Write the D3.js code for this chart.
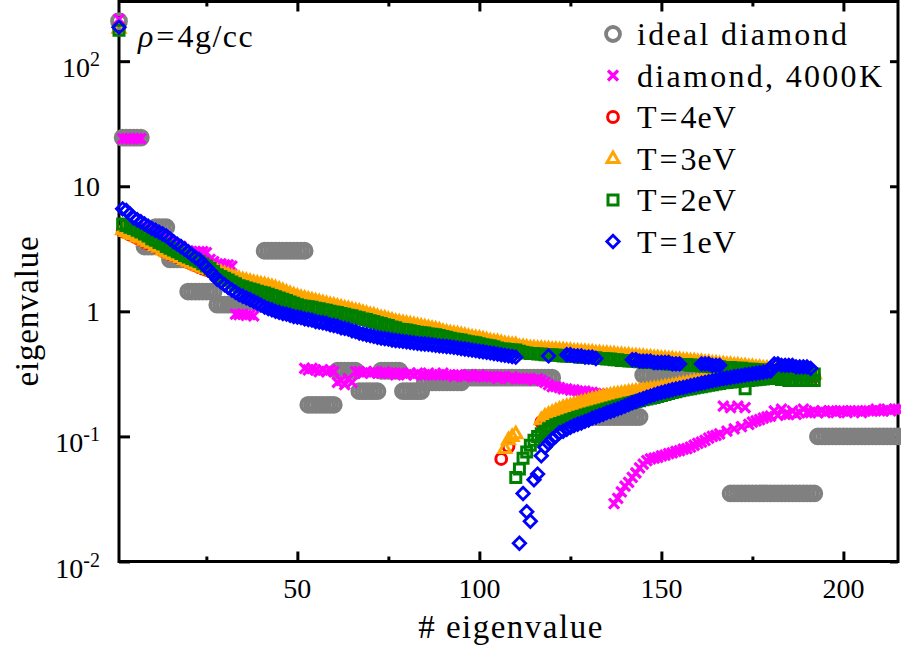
<!DOCTYPE html>
<html>
<head>
<meta charset="utf-8">
<title>eigenvalue spectrum</title>
<script src="https://cdn.jsdelivr.net/npm/d3@7/dist/d3.min.js"></script>
<style>
  body { margin: 0; background: #fff; }
</style>
</head>
<body>
<div id="chart"></div>
<script>
// eigenvalue number n starts at 1 in every list; null = no point drawn

// ideal diamond, n = 1..215
const idealDiamond = [209,
  24.5, 24.5, 24.5, 24.5, 24.5, 24.5,
  3.3, 3.3, 3.3,
  4.7, 4.7, 4.7, 4.7,
  2.6, 2.6, 2.6, 2.6, 2.6,
  1.44, 1.44, 1.44, 1.44, 1.44, 1.44, 1.44, 1.44,
  1.13, 1.13, 1.13, 1.13, 1.13, 1.13, 1.13,
  1.2, 1.2, 1.2, 1.2, 1.2, 1.2,
  3.05, 3.05, 3.05, 3.05, 3.05, 3.05, 3.05, 3.05, 3.05, 3.05, 3.05, 3.05,
  0.179, 0.179, 0.179, 0.179, 0.179, 0.179, 0.179, 0.179,
  0.335, 0.335, 0.335, 0.335, 0.335, 0.335,
  0.23, 0.23, 0.23, 0.23, 0.23, 0.23,
  0.335, 0.335, 0.335, 0.335, 0.335, 0.335,
  0.23, 0.23, 0.23, 0.23, 0.23, 0.23,
  0.27, 0.27, 0.27, 0.27, 0.27, 0.27, 0.27, 0.27, 0.27, 0.27, 0.27,
  0.295, 0.295, 0.295, 0.295, 0.295, 0.295, 0.295, 0.295, 0.295, 0.295,
  0.295, 0.295, 0.295, 0.295, 0.295, 0.295, 0.295, 0.295, 0.295, 0.295,
  0.295, 0.295, 0.295, 0.295, 0.295,
  0.143, 0.143, 0.143, 0.143, 0.143, 0.143, 0.143, 0.143, 0.143, 0.143, 0.143, 0.143,
  0.143, 0.143, 0.143, 0.143, 0.143, 0.143, 0.143, 0.143, 0.143, 0.143, 0.143, 0.143,
  0.31, 0.31, 0.31, 0.31, 0.31, 0.31, 0.31, 0.31, 0.31, 0.31, 0.31, 0.31,
  0.31, 0.31, 0.31, 0.31, 0.31, 0.31, 0.31, 0.31, 0.31, 0.31, 0.31, 0.31,
  0.035, 0.035, 0.035, 0.035, 0.035, 0.035, 0.035, 0.035, 0.035, 0.035, 0.035, 0.035,
  0.035, 0.035, 0.035, 0.035, 0.035, 0.035, 0.035, 0.035, 0.035, 0.035, 0.035, 0.035,
  0.1, 0.1, 0.1, 0.1, 0.1, 0.1, 0.1, 0.1, 0.1, 0.1, 0.1, 0.1,
  0.1, 0.1, 0.1, 0.1, 0.1, 0.1, 0.1, 0.1, 0.1, 0.1, 0.1];

// diamond 4000K, n = 1..215
const diamond4000K = [
  217, 24, 24, 24, 24, 24, 24, 4.8, 4.6, 4.4,
  4.2, 4.0, 3.9, 3.7, 3.6, 3.5, 3.4, 3.3, 3.1, 3.05,
  3.0, 3.0, 3.0, 3.0, 2.95, 2.6, 2.5, 2.4, 2.4, 2.35,
  2.35, 2.3, 0.95, 0.94, 0.95, 0.93, 0.94, 0.92, 1.3, 1.25,
  1.2, 1.2, 1.15, 1.1, 1.1, 1.05, 1.05, 1.0, 1.0, 1.0,
  0.98, 0.35, 0.34, 0.35, 0.34, 0.33, 0.34, 0.33, 0.34, 0.33,
  0.27, 0.28, 0.26, 0.29, 0.27, 0.33, 0.33, 0.32, 0.33, 0.32,
  0.33, 0.32, 0.32, 0.33, 0.32, 0.32, 0.31, 0.32, 0.32, 0.31,
  0.32, 0.31, 0.32, 0.31, 0.31, 0.32, 0.31, 0.31, 0.31, 0.32,
  0.31, 0.31, 0.30, 0.31, 0.31, 0.30, 0.31, 0.30, 0.30, 0.31,
  0.30, 0.30, 0.30, 0.30, 0.29, 0.30, 0.30, 0.29, 0.30, 0.29,
  0.29, 0.29, 0.29, 0.29, 0.28, 0.29, 0.28, 0.27, 0.26, 0.25,
  0.25, 0.245, 0.24, 0.24, 0.235, 0.235, 0.23, 0.23, 0.23, 0.225,
  0.225, 0.22, 0.22, 0.22, 0.215, 0.21, 0.029, 0.032, 0.036, 0.04,
  0.043, 0.047, 0.051, 0.056, 0.06, 0.064, 0.066, 0.067, 0.068, 0.07,
  0.071, 0.073, 0.074, 0.076, 0.077, 0.079, 0.08, 0.082, 0.085, 0.088,
  0.09, 0.093, 0.097, 0.1, 0.102, 0.105, 0.175, 0.11, 0.17, 0.115,
  0.175, 0.12, 0.17, 0.125, 0.13, 0.133, 0.136, 0.14, 0.143, 0.145,
  0.16, 0.147, 0.165, 0.15, 0.15, 0.16, 0.15, 0.155, 0.165, 0.155,
  0.155, 0.16, 0.155, 0.16, 0.155, 0.16, 0.16, 0.155, 0.16, 0.16,
  0.155, 0.16, 0.16, 0.16, 0.155, 0.16, 0.16, 0.16, 0.165, 0.16,
  0.16, 0.165, 0.16, 0.165, 0.165];

// T=4eV: n = 1..110, upper branch n = 111..192, lower branch n = 106..190
const t4Main = [
  185, 4.4, 4.25, 4.1, 4.0, 3.85, 3.75, 3.6, 3.5, 3.4,
  3.3, 3.2, 3.05, 2.95, 2.87, 2.8, 2.72, 2.65, 2.56, 2.48,
  2.4, 2.33, 2.26, 2.2, 2.15, 2.1, 2.06, 2.02, 1.98, 1.94,
  1.9, 1.85, 1.81, 1.77, 1.74, 1.71, 1.68, 1.66, 1.63, 1.61,
  1.58, 1.55, 1.52, 1.49, 1.46, 1.42, 1.38, 1.35, 1.32, 1.29,
  1.26, 1.24, 1.22, 1.2, 1.18, 1.16, 1.14, 1.12, 1.1, 1.09,
  1.07, 1.05, 1.04, 1.02, 1.0, 0.99, 0.97, 0.95, 0.94, 0.92,
  0.91, 0.89, 0.87, 0.86, 0.85, 0.83, 0.82, 0.8, 0.79, 0.78,
  0.77, 0.76, 0.75, 0.74, 0.73, 0.72, 0.71, 0.7, 0.69, 0.68,
  0.67, 0.66, 0.65, 0.645, 0.64, 0.63, 0.62, 0.61, 0.6, 0.595,
  0.59, 0.58, 0.57, 0.565, 0.56, 0.55, 0.545, 0.54, 0.535, 0.53];
const t4Upper = [
  0.52, 0.515, 0.51, 0.505, 0.5, 0.5, 0.495, 0.49, 0.485, 0.48,
  0.478, 0.475, 0.47, 0.47, 0.468, 0.465, 0.46, 0.46, 0.457, 0.455,
  0.452, 0.45, 0.448, 0.445, 0.44, 0.44, 0.437, 0.435, 0.43, 0.43,
  0.428, 0.425, 0.422, 0.42, 0.418, 0.415, 0.41, 0.41, 0.408, 0.405,
  0.402, 0.4, 0.398, 0.395, 0.393, 0.39, 0.388, 0.385, 0.383, 0.38,
  0.378, 0.375, 0.373, 0.37, 0.368, 0.365, 0.363, 0.36, 0.358, 0.355,
  0.353, 0.35, 0.348, 0.345, 0.343, 0.34, 0.338, 0.335, 0.333, 0.33,
  0.328, 0.325, 0.323, 0.32, 0.318, 0.315, 0.313, 0.31, 0.308, 0.305,
  0.303, 0.3];
const t4Lower = [
  0.066, null, 0.083, null, null, null, null, null, null, null,
  null, 0.13, 0.135, 0.14, 0.145, 0.149, 0.153, 0.157, 0.161, 0.165,
  0.168, 0.171, 0.174, 0.177, 0.18, 0.183, 0.186, 0.189, 0.192, 0.195,
  0.198, 0.2, 0.203, 0.206, 0.209, 0.212, 0.215, 0.218, 0.221, 0.224,
  0.227, 0.23, 0.233, 0.236, 0.239, 0.242, 0.245, 0.248, 0.251, 0.254,
  0.257, 0.26, 0.262, 0.264, 0.266, 0.268, 0.27, 0.272, 0.274, 0.276,
  0.278, 0.28, 0.282, 0.284, 0.286, 0.288, 0.29, 0.292, 0.294, 0.296,
  0.298, 0.3, 0.302, 0.304, 0.306, 0.308, 0.31, 0.312, 0.314, 0.316,
  0.318, 0.32, 0.322, 0.324, 0.326];

// T=3eV: n = 1..110, upper n = 111..192, lower n = 107..180
const t3Main = [
  183, 4.5, 4.35, 4.2, 4.1, 3.95, 3.85, 3.7, 3.6, 3.5,
  3.35, 3.25, 3.1, 3.0, 2.92, 2.85, 2.77, 2.7, 2.6, 2.52,
  2.45, 2.38, 2.3, 2.25, 2.2, 2.15, 2.12, 2.08, 2.04, 2.0,
  1.95, 1.9, 1.86, 1.82, 1.79, 1.76, 1.73, 1.7, 1.68, 1.65,
  1.63, 1.6, 1.57, 1.54, 1.5, 1.46, 1.42, 1.38, 1.35, 1.32,
  1.29, 1.27, 1.25, 1.23, 1.21, 1.19, 1.17, 1.15, 1.13, 1.12,
  1.1, 1.08, 1.06, 1.05, 1.03, 1.01, 1.0, 0.98, 0.96, 0.94,
  0.93, 0.91, 0.89, 0.88, 0.86, 0.85, 0.83, 0.82, 0.81, 0.8,
  0.79, 0.78, 0.77, 0.76, 0.75, 0.74, 0.73, 0.72, 0.71, 0.69,
  0.68, 0.67, 0.665, 0.66, 0.65, 0.64, 0.63, 0.62, 0.615, 0.61,
  0.6, 0.59, 0.58, 0.575, 0.57, 0.56, 0.55, 0.545, 0.54, 0.54];
const t3Upper = [
  0.52, 0.52, 0.515, 0.51, 0.51, 0.505, 0.505, 0.5, 0.5, 0.495,
  0.495, 0.49, 0.49, 0.485, 0.485, 0.48, 0.48, 0.475, 0.475, 0.47,
  0.47, 0.465, 0.465, 0.46, 0.46, 0.455, 0.455, 0.45, 0.45, 0.445,
  0.445, 0.44, 0.44, 0.435, 0.435, 0.43, 0.43, 0.425, 0.425, 0.42,
  0.42, 0.415, 0.415, 0.41, 0.41, 0.405, 0.405, 0.4, 0.4, 0.395,
  0.395, 0.39, 0.39, 0.385, 0.385, 0.38, 0.38, 0.375, 0.375, 0.37,
  0.37, 0.365, 0.365, 0.36, 0.36, 0.355, 0.355, 0.35, 0.35, 0.345,
  0.345, 0.34, 0.34, 0.335, 0.335, 0.33, 0.33, 0.325, 0.325, 0.32,
  0.32, 0.315];
const t3Lower = [
  0.08, 0.094, 0.1, 0.105, null, null, null, null, null, null,
  0.136, 0.145, 0.15, 0.155, 0.16, 0.165, 0.17, 0.173, 0.176, 0.18,
  0.183, 0.187, 0.19, 0.194, 0.198, 0.2, 0.205, 0.208, 0.21, 0.213,
  0.216, 0.218, 0.22, 0.222, 0.225, 0.228, 0.23, 0.232, 0.234, 0.236,
  0.238, 0.24, 0.242, 0.245, 0.248, 0.25, 0.253, 0.256, 0.26, 0.263,
  0.266, 0.27, 0.273, 0.276, 0.279, 0.282, 0.285, 0.288, 0.29, 0.293,
  0.296, 0.3, 0.303, 0.306, 0.31, 0.313, 0.316, 0.32, 0.323, 0.326,
  0.33, 0.333, 0.336, 0.34];

// T=2eV: n = 1..109, upper n = 110..192, lower n = 110..192
const t2Main = [
  177, 5.0, 4.85, 4.7, 4.6, 4.45, 4.3, 4.15, 4.0, 3.8,
  3.7, 3.55, 3.45, 3.3, 3.2, 3.1, 3.0, 2.9, 2.8, 2.72,
  2.65, 2.57, 2.5, 2.4, 2.3, 2.2, 2.08, 1.96, 1.9, 1.84,
  1.78, 1.72, 1.66, 1.6, 1.57, 1.54, 1.51, 1.48, 1.45, 1.42,
  1.4, 1.37, 1.34, 1.31, 1.28, 1.25, 1.22, 1.19, 1.16, 1.13,
  1.11, 1.1, 1.09, 1.08, 1.06, 1.05, 1.03, 1.02, 1.0, 0.99,
  0.98, 0.96, 0.95, 0.93, 0.92, 0.9, 0.89, 0.87, 0.86, 0.84,
  0.83, 0.81, 0.8, 0.78, 0.77, 0.75, 0.74, 0.72, 0.715, 0.71,
  0.7, 0.69, 0.68, 0.675, 0.67, 0.66, 0.655, 0.65, 0.64, 0.63,
  0.62, 0.61, 0.6, 0.595, 0.59, 0.58, 0.57, 0.565, 0.56, 0.55,
  0.54, 0.535, 0.53, 0.52, 0.51, 0.5, 0.5, 0.495, 0.49];
const t2Upper = [
  0.49, 0.48, 0.47, 0.465, 0.46, 0.46, 0.455, 0.455, 0.45, 0.45,
  0.45, 0.445, 0.445, 0.44, 0.44, 0.44, 0.435, 0.435, 0.43, 0.43,
  0.43, 0.425, 0.425, 0.42, 0.42, 0.415, 0.415, 0.41, 0.41, 0.405,
  0.405, 0.4, 0.4, 0.4, 0.395, 0.395, 0.39, 0.39, 0.39, 0.385,
  0.385, 0.385, 0.38, 0.38, 0.38, 0.375, 0.375, 0.375, 0.37, 0.37,
  0.37, 0.365, 0.365, 0.365, 0.36, 0.36, 0.36, 0.355, 0.355, 0.355,
  0.35, 0.35, 0.35, 0.345, 0.345, 0.345, 0.34, 0.34, 0.34, 0.335,
  0.335, 0.335, 0.33, 0.33, 0.33, 0.325, 0.325, 0.325, 0.32, 0.32,
  0.32, 0.315, 0.315];
const t2Lower = [
  0.047, 0.055, 0.067, 0.075, 0.085, 0.093, 0.1, 0.105, 0.11, 0.115,
  0.12, 0.124, 0.127, 0.13, 0.133, 0.136, 0.139, 0.142, 0.145, 0.148,
  0.151, 0.154, 0.157, 0.16, 0.163, 0.166, 0.169, 0.172, 0.175, 0.178,
  0.181, 0.184, 0.187, 0.19, 0.193, 0.196, 0.199, 0.202, 0.205, 0.209,
  0.212, 0.216, 0.22, 0.224, 0.228, 0.232, 0.235, 0.238, 0.241, 0.244,
  0.247, 0.25, 0.253, 0.256, 0.259, 0.262, 0.265, 0.268, 0.27, 0.272,
  0.274, 0.276, 0.278, 0.24, 0.28, 0.282, 0.284, 0.286, 0.288, 0.29,
  0.29, 0.29, 0.29, 0.285, 0.285, 0.28, 0.28, 0.28, 0.28, 0.28,
  0.28, 0.28, 0.28];

// T=1eV: n = 1..110, upper n = 111..191, lower n = 111..180
const t1Main = [
  187, 6.6, 6.4, 6.0, 5.6, 5.4, 5.2, 5.0, 4.8, 4.6,
  4.45, 4.3, 4.15, 4.0, 3.8, 3.6, 3.45, 3.3, 3.15, 3.0,
  2.85, 2.7, 2.6, 2.4, 2.25, 2.1, 1.95, 1.8, 1.72, 1.63,
  1.55, 1.48, 1.42, 1.36, 1.32, 1.28, 1.24, 1.2, 1.16, 1.12,
  1.08, 1.05, 1.03, 1.0, 0.98, 0.96, 0.95, 0.93, 0.91, 0.9,
  0.89, 0.87, 0.86, 0.85, 0.83, 0.82, 0.81, 0.8, 0.78, 0.77,
  0.76, 0.74, 0.73, 0.72, 0.7, 0.69, 0.67, 0.66, 0.65, 0.64,
  0.63, 0.62, 0.61, 0.605, 0.6, 0.59, 0.585, 0.58, 0.575, 0.57,
  0.565, 0.56, 0.555, 0.55, 0.548, 0.545, 0.54, 0.535, 0.53, 0.527,
  0.523, 0.52, 0.515, 0.51, 0.505, 0.5, 0.495, 0.49, 0.485, 0.48,
  0.475, 0.47, 0.465, 0.46, 0.455, 0.45, 0.445, 0.44, 0.435, 0.43];
const t1Upper = [
  null, null, null, null, null, null, null, null, 0.44, null,
  null, null, null, 0.45, 0.45, 0.44, 0.44, 0.44, 0.43, 0.43,
  0.43, 0.42, null, null, null, null, null, null, null, null,
  null, 0.41, 0.41, 0.40, 0.40, 0.40, 0.40, 0.39, 0.39, 0.39,
  0.39, 0.39, 0.38, 0.38, 0.38, null, null, null, null, null,
  0.38, 0.38, 0.38, 0.37, 0.37, 0.37, null, null, null, null,
  null, null, null, null, null, null, null, null, null, null,
  0.38, 0.38, 0.37, 0.37, 0.37, 0.37, 0.36, 0.36, 0.36, 0.36,
  0.35];
const t1Lower = [
  0.014, 0.035, 0.025, 0.021, 0.045, 0.05, 0.07, 0.082, 0.088, 0.095,
  0.1, 0.107, 0.11, 0.114, 0.118, 0.122, 0.125, 0.128, 0.132, 0.135,
  0.14, 0.143, 0.147, 0.15, 0.155, 0.158, 0.162, 0.166, 0.17, 0.175,
  0.18, 0.186, 0.19, 0.196, 0.2, 0.206, 0.21, 0.215, 0.22, 0.224,
  0.228, 0.232, 0.236, 0.24, 0.243, 0.246, 0.25, 0.254, 0.258, 0.262,
  0.266, 0.27, 0.274, 0.278, 0.282, 0.286, 0.29, 0.293, 0.296, 0.3,
  0.303, 0.306, 0.31, 0.313, 0.316, 0.32, 0.323, 0.326, 0.33, 0.333];

const xMajorTicks = [50, 100, 150, 200];
const xMinorTicks = [25, 75, 125, 175];
const yTickValues = [100, 10, 1, 0.1, 0.01];
const yTickBase = ['10', '10', '1', '10', '10'];
const yTickExp = ['2', '', '', '-1', '-2'];
const legendLabels = ['ideal diamond', 'diamond, 4000K', 'T=4eV', 'T=3eV', 'T=2eV', 'T=1eV'];

function drawChart() {
    const width = 901;
    const height = 651;
    const serif = '"Liberation Serif", "DejaVu Serif", serif';

    const svg = d3.select('#chart')
        .append('svg')
        .attr('width', width)
        .attr('height', height)
        .style('font-family', serif);

    svg.append('rect').attr('width', width).attr('height', height).attr('fill', '#fff');

    const x = d3.scaleLinear().domain([1, 215]).range([119, 898]);
    const y = d3.scaleLog().domain([0.01, 300]).range([561.5, 1.5]);

    const markers = {
        ring:     { r: 7, width: 3.8 },
        circle:   { r: 5.4, width: 3 },
        cross:    { d: 'M-5,-5L5,5M5,-5L-5,5', width: 3.2 },
        triangle: { d: 'M0,-6.5L6,4L-6,4Z', width: 3 },
        square:   { d: 'M-5,-5H5V5H-5Z', width: 3 },
        diamond:  { d: 'M0,-6.2L6.2,0L0,6.2L-6.2,0Z', width: 2.8 }
    };

    const series = [
        { color: '#808080', shape: 'ring',     parts: [[idealDiamond, 1]] },
        { color: '#ff00ff', shape: 'cross',    parts: [[diamond4000K, 1]] },
        { color: '#ff0000', shape: 'circle',   parts: [[t4Main, 1], [t4Lower, 106], [t4Upper, 111]] },
        { color: '#ffa500', shape: 'triangle', parts: [[t3Main, 1], [t3Lower, 107], [t3Upper, 111]] },
        { color: '#008000', shape: 'square',   parts: [[t2Main, 1], [t2Lower, 110], [t2Upper, 110]] },
        { color: '#0000ff', shape: 'diamond',  parts: [[t1Main, 1], [t1Lower, 111], [t1Upper, 111]] }
    ];

    drawFrame();
    drawData();
    drawLabels();
    drawLegend();

    function drawMarker(g, shape, px, py) {
        const m = markers[shape];
        if (m.r) {
            g.append('circle').attr('cx', px).attr('cy', py).attr('r', m.r);
        } else {
            g.append('path').attr('d', m.d).attr('transform', `translate(${px},${py})`);
        }
    }

    function drawFrame() {
        // ticks point inwards on all four sides
        const axes = [
            [d3.axisBottom(x).tickValues(xMajorTicks).tickSize(-10), 'translate(0,561.5)'],
            [d3.axisBottom(x).tickValues(xMinorTicks).tickSize(-5), 'translate(0,561.5)'],
            [d3.axisTop(x).tickValues(xMajorTicks).tickSize(-10), 'translate(0,1.5)'],
            [d3.axisTop(x).tickValues(xMinorTicks).tickSize(-5), 'translate(0,1.5)'],
            [d3.axisLeft(y).tickValues(yTickValues).tickSize(-11), 'translate(119,0)'],
            [d3.axisRight(y).tickValues(yTickValues).tickSize(-8), 'translate(898,0)']
        ];
        axes.forEach(([axis, tr]) => {
            svg.append('g')
                .attr('transform', tr)
                .call(axis.tickFormat(''))
                .call(g => g.select('.domain').remove())
                .selectAll('line').attr('stroke', '#000').attr('stroke-width', 3);
        });

        svg.append('rect')
            .attr('x', x(1)).attr('y', y(300))
            .attr('width', x(215) - x(1)).attr('height', y(0.01) - y(300))
            .attr('fill', 'none').attr('stroke', '#000').attr('stroke-width', 3);
    }

    function drawData() {
        series.forEach(s => {
            const g = svg.append('g')
                .attr('fill', 'none')
                .attr('stroke', s.color)
                .attr('stroke-width', markers[s.shape].width);
            s.parts.forEach(([values, start]) => {
                values.forEach((v, k) => {
                    if (v == null) return;
                    drawMarker(g, s.shape, x(start + k), y(v));
                });
            });
        });
    }

    function addText(props) {
        const t = svg.append('text')
            .style('font-family', serif)
            .attr('fill', '#000');
        Object.keys(props).forEach(k => t.attr(k, props[k]));
        return t;
    }

    function drawLabels() {
        xMajorTicks.forEach(t => {
            addText({ x: x(t), y: 598, 'text-anchor': 'middle', 'font-size': 28 }).text(t);
        });

        yTickValues.forEach((v, i) => {
            const t = addText({
                x: 100, y: y(v) + (yTickExp[i] ? 16 : 10),
                'text-anchor': 'end', 'font-size': 28
            });
            t.append('tspan').text(yTickBase[i]);
            if (yTickExp[i]) {
                t.append('tspan').attr('dy', -11).attr('font-size', 20).text(yTickExp[i]);
            }
        });

        addText({ x: 511, y: 638, 'text-anchor': 'middle', 'font-size': 33, 'letter-spacing': 1.5 })
            .text('# eigenvalue');

        addText({ transform: 'translate(38,311) rotate(-90)', 'text-anchor': 'middle', 'font-size': 33, 'letter-spacing': 0.8 })
            .text('eigenvalue');

        const note = addText({ x: 138, y: 47, 'font-size': 32 });
        note.append('tspan').attr('font-style', 'italic').text('ρ');
        note.append('tspan').attr('dx', 3).text('=');
        note.append('tspan').attr('dx', 3).attr('letter-spacing', 1.5).text('4g/cc');
    }

    function drawLegend() {
        legendLabels.forEach((label, i) => {
            const s = series[i];
            const base = 45 + i * 41.5;
            const g = svg.append('g')
                .attr('fill', 'none')
                .attr('stroke', s.color)
                .attr('stroke-width', markers[s.shape].width);
            drawMarker(g, s.shape, 613, base - 11);
            const t = addText({ x: 637, y: base, 'font-size': 32 });
            const eq = label.indexOf('=');
            if (eq < 0) {
                t.attr('textLength', i === 0 ? 210 : 245).attr('lengthAdjust', 'spacing').text(label);
            } else {
                t.append('tspan').text(label.slice(0, eq));
                t.append('tspan').attr('dx', 3).text('=');
                t.append('tspan').attr('dx', 3).attr('letter-spacing', 1).text(label.slice(eq + 1));
            }
        });
    }
}

document.addEventListener('DOMContentLoaded', drawChart);
</script>
</body>
</html>
